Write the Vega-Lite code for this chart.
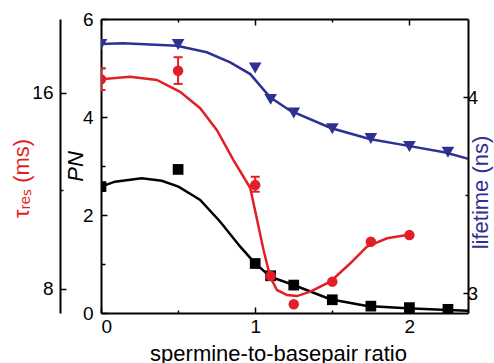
{
  "$schema": "https://vega.github.io/schema/vega-lite/v6.json",
  "width": 367,
  "height": 294,
  "autosize": "none",
  "padding": {"left": 101, "top": 19, "right": 26, "bottom": 50},
  "config": {
    "view": {"stroke": null},
    "font": "Liberation Sans",
    "axis": {
      "grid": false,
      "domainColor": "black",
      "domainWidth": 2,
      "tickColor": "black",
      "tickWidth": 1.5,
      "labelFont": "Liberation Sans",
      "labelFontSize": 19,
      "labelColor": "black",
      "titleFont": "Liberation Sans",
      "titleFontSize": 22,
      "titleFontWeight": "normal",
      "titleColor": "black"
    }
  },
  "datasets": {
    "pnPts": [
      {"x": 0, "y": 2.58}, {"x": 0.5, "y": 2.93}, {"x": 1.0, "y": 1.01},
      {"x": 1.1, "y": 0.76}, {"x": 1.25, "y": 0.57}, {"x": 1.5, "y": 0.27},
      {"x": 1.75, "y": 0.14}, {"x": 2.0, "y": 0.11}, {"x": 2.25, "y": 0.075}
    ],
    "pnFit": [
      {"x": 0, "y": 2.578}, {"x": 0.091, "y": 2.68}, {"x": 0.264, "y": 2.749},
      {"x": 0.394, "y": 2.7}, {"x": 0.502, "y": 2.578}, {"x": 0.61, "y": 2.373},
      {"x": 0.643, "y": 2.306}, {"x": 0.773, "y": 1.863}, {"x": 0.903, "y": 1.353},
      {"x": 0.989, "y": 1.047}, {"x": 1.097, "y": 0.741}, {"x": 1.249, "y": 0.571},
      {"x": 1.487, "y": 0.28}, {"x": 1.725, "y": 0.143}, {"x": 1.985, "y": 0.096},
      {"x": 2.245, "y": 0.061}, {"x": 2.385, "y": 0.047}
    ],
    "tauPts": [
      {"x": 0, "y": 16.54}, {"x": 0.5, "y": 16.89}, {"x": 1.0, "y": 12.22},
      {"x": 1.1, "y": 8.51}, {"x": 1.25, "y": 7.36}, {"x": 1.5, "y": 8.28},
      {"x": 1.75, "y": 9.91}, {"x": 2.0, "y": 10.18}
    ],
    "tauErr": [
      {"x": 0, "lo": 16.1, "hi": 16.99},
      {"x": 0.5, "lo": 16.35, "hi": 17.44},
      {"x": 1.0, "lo": 11.95, "hi": 12.56}
    ],
    "tauFit": [
      {"x": 0, "y": 16.54}, {"x": 0.188, "y": 16.64}, {"x": 0.362, "y": 16.51},
      {"x": 0.513, "y": 16.03}, {"x": 0.643, "y": 15.36}, {"x": 0.751, "y": 14.47},
      {"x": 0.859, "y": 13.24}, {"x": 0.968, "y": 12.1}, {"x": 1.054, "y": 9.57},
      {"x": 1.097, "y": 8.48}, {"x": 1.141, "y": 7.94}, {"x": 1.206, "y": 7.73},
      {"x": 1.271, "y": 7.69}, {"x": 1.357, "y": 7.87}, {"x": 1.487, "y": 8.28},
      {"x": 1.617, "y": 9.03}, {"x": 1.725, "y": 9.71}, {"x": 1.855, "y": 10.05},
      {"x": 1.985, "y": 10.18}
    ],
    "lifePts": [
      {"x": 0, "y": 4.27}, {"x": 0.5, "y": 4.27}, {"x": 1.0, "y": 4.15},
      {"x": 1.1, "y": 3.99}, {"x": 1.25, "y": 3.92}, {"x": 1.5, "y": 3.84},
      {"x": 1.75, "y": 3.79}, {"x": 2.0, "y": 3.75}, {"x": 2.25, "y": 3.72}
    ],
    "lifeFit": [
      {"x": 0, "y": 4.272}, {"x": 0.143, "y": 4.276}, {"x": 0.492, "y": 4.264},
      {"x": 0.686, "y": 4.23}, {"x": 0.838, "y": 4.179}, {"x": 0.968, "y": 4.119},
      {"x": 1.032, "y": 4.06}, {"x": 1.097, "y": 4.0}, {"x": 1.227, "y": 3.932},
      {"x": 1.49, "y": 3.844}, {"x": 1.742, "y": 3.788}, {"x": 1.985, "y": 3.754},
      {"x": 2.234, "y": 3.719}, {"x": 2.383, "y": 3.686}
    ]
  },
  "layer": [
    {
      "layer": [
        {
          "data": {"name": "pnFit"},
          "mark": {"type": "line", "color": "black", "strokeWidth": 2.5, "clip": true},
          "encoding": {
            "x": {
              "field": "x", "type": "quantitative",
              "scale": {"domain": [0, 2.38], "nice": false, "zero": false},
              "axis": {
                "orient": "bottom",
                "values": [0, 0.5, 1, 1.5, 2],
                "labelExpr": "datum.value % 1 === 0 ? format(datum.value, 'd') : ''",
                "tickSize": {"condition": {"test": "datum.value % 1 === 0", "value": -6}, "value": -3},
                "labelPadding": 10,
                "title": "spermine-to-basepair ratio",
                "titleBaseline": "alphabetic",
                "titleX": 177,
                "titleY": 47
              }
            },
            "y": {
              "field": "y", "type": "quantitative",
              "scale": {"domain": [0, 6], "nice": false, "zero": false},
              "axis": {
                "orient": "left",
                "values": [0, 1, 2, 3, 4, 5, 6],
                "labelExpr": "datum.value % 2 === 0 ? format(datum.value, 'd') : ''",
                "tickSize": {"condition": {"test": "datum.value % 2 === 0", "value": -6}, "value": -4},
                "labelPadding": 14,
                "title": "PN",
                "titleFontStyle": "italic",
                "titleAngle": -90,
                "titleX": -14,
                "titleY": 147
              }
            }
          }
        },
        {
          "data": {"name": "pnPts"},
          "mark": {"type": "point", "shape": "square", "filled": true, "color": "black", "size": 115, "opacity": 1, "clip": true},
          "encoding": {
            "x": {"field": "x", "type": "quantitative"},
            "y": {"field": "y", "type": "quantitative"}
          }
        }
      ]
    },
    {
      "layer": [
        {
          "data": {"name": "tauFit"},
          "mark": {"type": "line", "color": "#e21f26", "strokeWidth": 2.5, "clip": true},
          "encoding": {
            "x": {"field": "x", "type": "quantitative", "scale": {"domain": [0, 2.38], "nice": false, "zero": false}, "axis": null},
            "y": {
              "field": "y", "type": "quantitative",
              "scale": {"domain": [7, 19], "nice": false, "zero": false},
              "axis": {
                "orient": "left",
                "offset": 41,
                "values": [8, 12, 16],
                "labelExpr": "datum.value % 8 === 0 ? format(datum.value, 'd') : ''",
                "tickSize": {"condition": {"test": "datum.value % 8 === 0", "value": -6}, "value": -3},
                "labelPadding": 13,
                "title": "τᵣₑₛ (ms)",
                "titleColor": "#e21f26",
                "titleAngle": -90,
                "titleX": -27,
                "titleY": 159
              }
            }
          }
        },
        {
          "data": {"name": "tauErr"},
          "mark": {"type": "rule", "color": "#e21f26", "strokeWidth": 2, "clip": true},
          "encoding": {
            "x": {"field": "x", "type": "quantitative"},
            "y": {"field": "lo", "type": "quantitative"},
            "y2": {"field": "hi"}
          }
        },
        {
          "data": {"name": "tauErr"},
          "mark": {"type": "tick", "orient": "horizontal", "color": "#e21f26", "size": 9, "thickness": 2, "opacity": 1, "clip": true},
          "encoding": {
            "x": {"field": "x", "type": "quantitative"},
            "y": {"field": "lo", "type": "quantitative"}
          }
        },
        {
          "data": {"name": "tauErr"},
          "mark": {"type": "tick", "orient": "horizontal", "color": "#e21f26", "size": 9, "thickness": 2, "opacity": 1, "clip": true},
          "encoding": {
            "x": {"field": "x", "type": "quantitative"},
            "y": {"field": "hi", "type": "quantitative"}
          }
        },
        {
          "data": {"name": "tauPts"},
          "mark": {"type": "point", "shape": "circle", "filled": true, "color": "#e21f26", "size": 110, "opacity": 1, "clip": true},
          "encoding": {
            "x": {"field": "x", "type": "quantitative"},
            "y": {"field": "y", "type": "quantitative"}
          }
        }
      ]
    },
    {
      "layer": [
        {
          "data": {"name": "lifeFit"},
          "mark": {"type": "line", "color": "#2e3092", "strokeWidth": 2.5, "clip": true},
          "encoding": {
            "x": {
              "field": "x", "type": "quantitative",
              "scale": {"domain": [0, 2.38], "nice": false, "zero": false},
              "axis": {
                "orient": "top",
                "values": [0, 0.5, 1, 1.5, 2],
                "labels": false,
                "tickSize": {"condition": {"test": "datum.value % 1 === 0", "value": -6}, "value": -3},
                "title": null
              }
            },
            "y": {
              "field": "y", "type": "quantitative",
              "scale": {"domain": [2.9, 4.4], "nice": false, "zero": false},
              "axis": {
                "orient": "right",
                "values": [3, 3.5, 4],
                "labelExpr": "datum.value % 1 === 0 ? format(datum.value, 'd') : ''",
                "tickSize": {"condition": {"test": "datum.value % 1 === 0", "value": -5}, "value": -3},
                "labelPadding": 4,
                "title": "lifetime (ns)",
                "titleColor": "#2e3092",
                "titleAngle": -90,
                "titleX": 24,
                "titleY": 173
              }
            }
          }
        },
        {
          "data": {"name": "lifePts"},
          "mark": {"type": "point", "shape": "triangle-down", "filled": true, "color": "#2e3092", "size": 160, "opacity": 1, "clip": true},
          "encoding": {
            "x": {"field": "x", "type": "quantitative"},
            "y": {"field": "y", "type": "quantitative"}
          }
        }
      ]
    }
  ],
  "resolve": {"scale": {"x": "independent", "y": "independent"}}
}
